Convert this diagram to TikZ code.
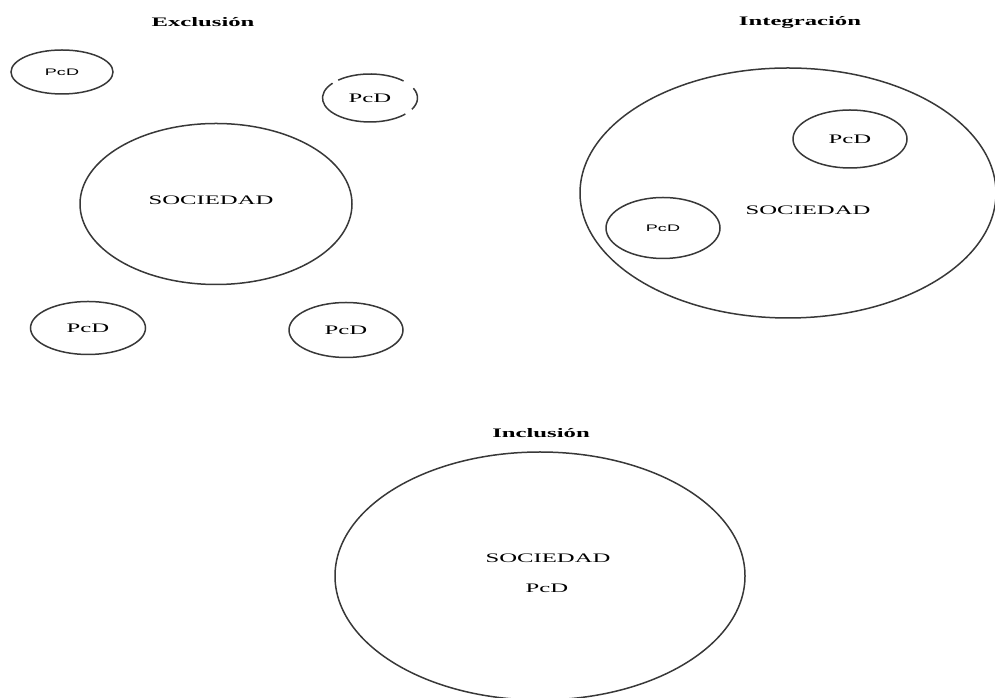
\documentclass[tikz,border=0pt]{standalone}
\usepackage{fontspec}
\setmainfont{Liberation Serif}
\setsansfont{Liberation Sans}
\usetikzlibrary{shapes.geometric}
% text is set wide, stretched horizontally
\newcommand\widetext[1]{\scalebox{1.9}[1]{#1}}
\tikzset{
  ring/.style={ellipse, draw=black!78, line width=1.5pt, inner sep=0pt},
  serifpcd/.style={font=\fontsize{13}{15}\selectfont},
  sanspcd/.style={font=\sffamily\fontsize{9.5}{11}\selectfont},
  heading/.style={font=\bfseries\fontsize{13}{15}\selectfont},
  label/.style={font=\fontsize{13}{15}\selectfont},
}
\begin{document}
\begin{tikzpicture}[x=1pt,y=1pt]
\useasboundingbox (0,0) rectangle (995,698);

% ---- Exclusion ----
\node[heading] (tExc) at (203,676) {\widetext{Exclusión}};
\node[ring, sanspcd, minimum width=102pt, minimum height=44pt] (e1) at (62,626) {\widetext{PcD}};
\node[ring, label, minimum width=272pt, minimum height=161pt] (eSoc) at (216,494) {};
\node[label] (eSocT) at (211,498) {\widetext{SOCIEDAD}};
\node[ring, serifpcd, minimum width=115pt, minimum height=53pt] (e3) at (88,370) {\widetext{PcD}};
\node[ring, serifpcd, minimum width=114pt, minimum height=55pt] (e4) at (346,368) {\widetext{PcD}};
% broken outline around the leaving person
\node[serifpcd] (e2) at (370,600) {\widetext{PcD}};
\begin{scope}[draw=black!78, line width=1.5pt]
  \draw (e2.center) ++(45:47.5 and 24) arc[start angle=45, end angle=132, x radius=47.5, y radius=24];
  \draw (e2.center) ++(142:47.5 and 24) arc[start angle=142, end angle=318, x radius=47.5, y radius=24];
  \draw (e2.center) ++(-28:47.5 and 24) arc[start angle=-28, end angle=24, x radius=47.5, y radius=24];
\end{scope}

% ---- Integration ----
\node[heading] (tInt) at (800,676) {\widetext{Integración}};
\node[ring, minimum width=416pt, minimum height=250pt] (iSoc) at (788,505) {};
\node[label] (iSocT) at (808,488) {\widetext{SOCIEDAD}};
\node[ring, serifpcd, minimum width=114pt, minimum height=58pt] (i1) at (850,559) {\widetext{PcD}};
\node[ring, sanspcd, minimum width=114pt, minimum height=61pt] (i2) at (663,470) {\widetext{PcD}};

% ---- Inclusion ----
\node[heading] (tInc) at (541,265) {\widetext{Inclusión}};
\node[ring, minimum width=410pt, minimum height=248pt] (nSoc) at (540,122) {};
\node[label] (nSocT) at (548,140) {\widetext{SOCIEDAD}};
\node[serifpcd] (nPcd) at (547,110) {\widetext{PcD}};
\end{tikzpicture}
\end{document}
